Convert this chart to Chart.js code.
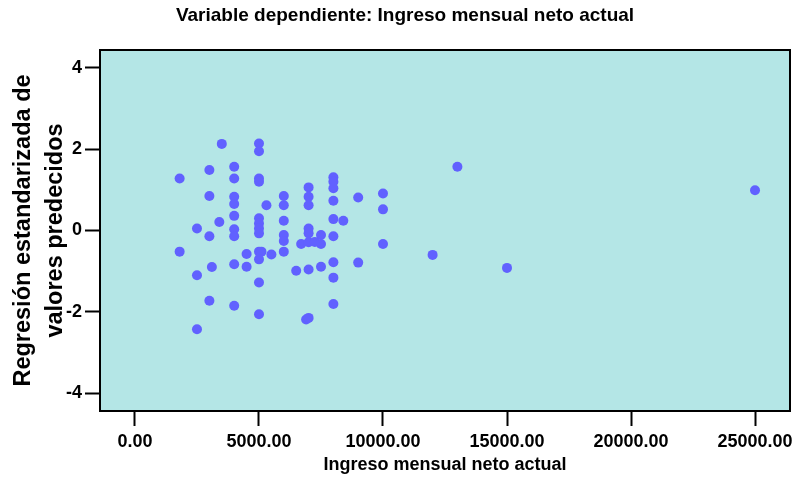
<!DOCTYPE html>
<html>
<head>
<meta charset="utf-8">
<script src="https://cdn.jsdelivr.net/npm/chart.js@4/dist/chart.umd.min.js"></script>
<style>
  html, body { margin: 0; padding: 0; background: #ffffff; }
  #wrap { width: 801px; height: 481px; }
</style>
</head>
<body>
<div id="wrap"><canvas id="c" width="801" height="481"></canvas></div>
<script>
// Ingreso mensual neto actual
const ingreso = [
  1800, 1800, 2500, 2500, 2500, 3000, 3000, 3000, 3100, 3000,
  3500, 3400, 4000, 4000, 4000, 4000, 4000, 4000, 4000, 4000,
  4000, 4500, 4500, 5000, 5000, 5000, 5000, 5000, 5000, 5000,
  5000, 5000, 5100, 5000, 5000, 5000, 5300, 5500, 6000, 6000,
  6000, 6000, 6000, 6000, 6500, 6700, 6900, 7000, 7000, 7000,
  7000, 7000, 7000, 7000, 7000, 7250, 7500, 7500, 7500, 8000,
  8000, 8000, 8000, 8000, 8000, 8000, 8000, 8000, 8400, 9000,
  9000, 10000, 10000, 10000, 12000, 13000, 15000, 25000
];
// Regresión estandarizada de valores predecidos
const regresion = [
  1.28, -0.52, 0.05, -1.10, -2.43, 1.49, 0.85, -0.14, -0.90, -1.73,
  2.13, 0.21, 1.57, 1.28, 0.83, 0.65, 0.36, 0.03, -0.14, -0.83,
  -1.85, -0.58, -0.89, 2.14, 1.95, 1.28, 1.20, 0.30, 0.17, 0.05,
  -0.07, -0.52, -0.52, -0.71, -1.28, -2.06, 0.62, -0.59, 0.85, 0.62,
  0.24, -0.11, -0.26, -0.52, -0.99, -0.33, -2.19, -2.15, 1.06, 0.83,
  0.62, 0.05, -0.07, -0.29, -0.96, -0.28, -0.11, -0.33, -0.89, 1.31,
  1.20, 1.04, 0.73, 0.28, -0.14, -0.78, -1.16, -1.81, 0.24, 0.81,
  -0.79, 0.91, 0.52, -0.33, -0.60, 1.57, -0.92, 0.99
];
const xTicks = [0, 5000, 10000, 15000, 20000, 25000];
const yTicks = [-4, -2, 0, 2, 4];
const chartTitle = 'Variable dependiente: Ingreso mensual neto actual';
const xTitle = 'Ingreso mensual neto actual';
const yTitle = ['Regresión estandarizada de', 'valores predecidos'];

const points = ingreso.map((x, i) => ({ x: x, y: regresion[i] }));
const FONT = 'Liberation Sans, Arial, Helvetica, sans-serif';

const areaPlugin = {
  id: 'areaPlugin',
  afterLayout(chart) {
    if (chart.titleBlock) {
      chart.titleBlock.left = 20;
    }
  },
  beforeDraw(chart) {
    const a = chart.chartArea, ctx = chart.ctx;
    ctx.save();
    ctx.fillStyle = '#b4e6e6';
    ctx.fillRect(a.left, a.top, a.right - a.left, a.bottom - a.top);
    ctx.restore();
  },
  afterDraw(chart) {
    const a = chart.chartArea, ctx = chart.ctx;
    ctx.save();
    ctx.strokeStyle = '#000';
    ctx.lineWidth = 2;
    ctx.strokeRect(a.left, a.top, a.right - a.left, a.bottom - a.top);
    ctx.restore();
  }
};

new Chart(document.getElementById('c'), {
  type: 'scatter',
  data: {
    datasets: [{
      data: points,
      backgroundColor: '#6161ff',
      borderColor: '#6161ff',
      borderWidth: 0,
      pointRadius: 5,
      pointHoverRadius: 5
    }]
  },
  options: {
    responsive: false,
    animation: false,
    events: [],
    layout: { padding: { left: 0, right: 11, top: 0, bottom: 0 } },
    plugins: {
      legend: { display: false },
      tooltip: { enabled: false },
      title: {
        display: true,
        text: chartTitle,
        color: '#000',
        font: { family: FONT, size: 19, weight: 'bold', lineHeight: 1.2 },
        padding: { top: 4, bottom: 23.2 }
      }
    },
    scales: {
      x: {
        type: 'linear',
        min: -1411,
        max: 26411,
        afterBuildTicks: s => { s.ticks = xTicks.map(v => ({ value: v })); },
        afterFit: s => { s.height = 70; },
        ticks: {
          color: '#000',
          font: { family: FONT, size: 18, weight: 'bold' },
          padding: 5,
          maxRotation: 0,
          callback: v => Number(v).toFixed(2)
        },
        grid: {
          display: true,
          drawOnChartArea: false,
          drawTicks: true,
          tickLength: 15,
          tickColor: '#000',
          tickWidth: 2
        },
        border: { display: true, color: '#000', width: 2 },
        title: {
          display: true,
          text: xTitle,
          color: '#000',
          font: { family: FONT, size: 18, weight: 'bold', lineHeight: 1.2 },
          padding: { top: 2, bottom: 5 }
        }
      },
      y: {
        type: 'linear',
        min: -4.44,
        max: 4.44,
        afterBuildTicks: s => { s.ticks = yTicks.map(v => ({ value: v })); },
        afterFit: s => { s.width = 100; },
        ticks: {
          color: '#000',
          font: { family: FONT, size: 18, weight: 'bold' },
          padding: 3,
          callback: v => String(v)
        },
        grid: {
          display: true,
          drawOnChartArea: false,
          drawTicks: true,
          tickLength: 15,
          tickColor: '#000',
          tickWidth: 2
        },
        border: { display: true, color: '#000', width: 2 },
        title: {
          display: true,
          text: yTitle,
          color: '#000',
          font: { family: FONT, size: 23.5, weight: 'bold', lineHeight: 1.35 },
          padding: { top: 8, bottom: 0 }
        }
      }
    }
  },
  plugins: [areaPlugin]
});
</script>
</body>
</html>
